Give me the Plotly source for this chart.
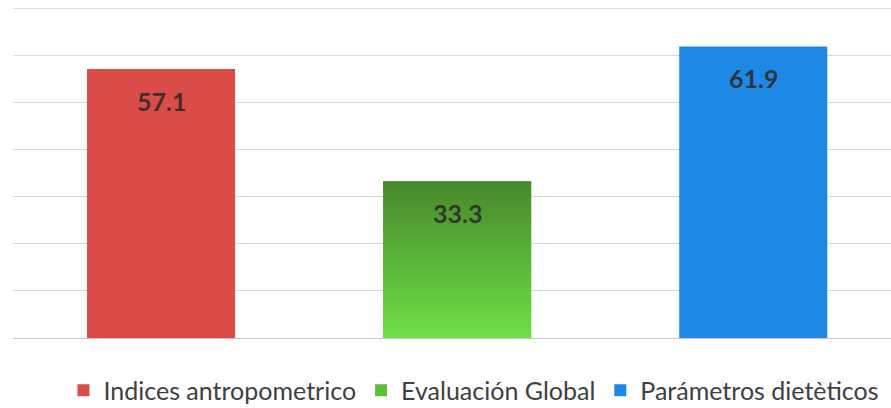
import plotly.graph_objects as go

# Chart data
categories = ["Indices antropometrico", "Evaluación Global", "Parámetros dietèticos"]
values = [57.1, 33.3, 61.9]
colors = ["rgb(218,76,72)", "rgb(92,190,58)", "rgb(30,137,228)"]
gradient_green = [[0, "rgb(110,224,72)"], [1, "rgb(70,136,42)"]]
grid_values = [0, 10, 20, 30, 40, 50, 60, 70]

BAR_WIDTH = 0.5
positions = list(range(len(categories)))

fig = go.Figure()

for i, (name, val, col) in enumerate(zip(categories, values, colors)):
    fig.add_trace(go.Bar(
        x=[positions[i]], y=[val], name=name, width=BAR_WIDTH,
        marker=dict(color=col, line=dict(width=0)),
        hoverinfo="skip",
    ))

# Vertical gradient fill over the middle bar
gi = 1
x0, x1 = positions[gi] - BAR_WIDTH / 2, positions[gi] + BAR_WIDTH / 2
fig.add_trace(go.Scatter(
    x=[x0, x1, x1, x0, x0],
    y=[0, 0, values[gi], values[gi], 0],
    mode="lines", line=dict(width=0), fill="toself",
    fillgradient=dict(type="vertical", colorscale=gradient_green),
    showlegend=False, hoverinfo="skip",
))

# Value labels inside the top of each bar
for i, val in enumerate(values):
    fig.add_annotation(
        x=positions[i], y=val, text=f"{val:.1f}", showarrow=False,
        yanchor="middle", yshift=-32,
        font=dict(family="Lato", size=25, color="rgba(45,40,40,0.88)", weight="bold"),
    )

fig.update_layout(
    width=891, height=408,
    margin=dict(l=13, r=0, t=0, b=70, autoexpand=False),
    paper_bgcolor="white", plot_bgcolor="white",
    barmode="overlay",
    showlegend=True,
    legend=dict(
        orientation="h", x=0.525, xanchor="center", y=-0.155, yanchor="middle",
        font=dict(family="Lato", size=25, color="#404040"),
        traceorder="normal",
    ),
    xaxis=dict(
        range=[-0.5, (891 - 13) / 296.1 - 0.5],
        showticklabels=False, showgrid=False, zeroline=False, ticks="",
    ),
    yaxis=dict(
        range=[0, 71.76], tickvals=grid_values, showticklabels=False,
        showgrid=True, gridcolor="rgb(217,217,217)", gridwidth=1,
        zeroline=True, zerolinecolor="rgb(200,200,200)", zerolinewidth=1, ticks="",
    ),
)

fig.write_html("out.html")
